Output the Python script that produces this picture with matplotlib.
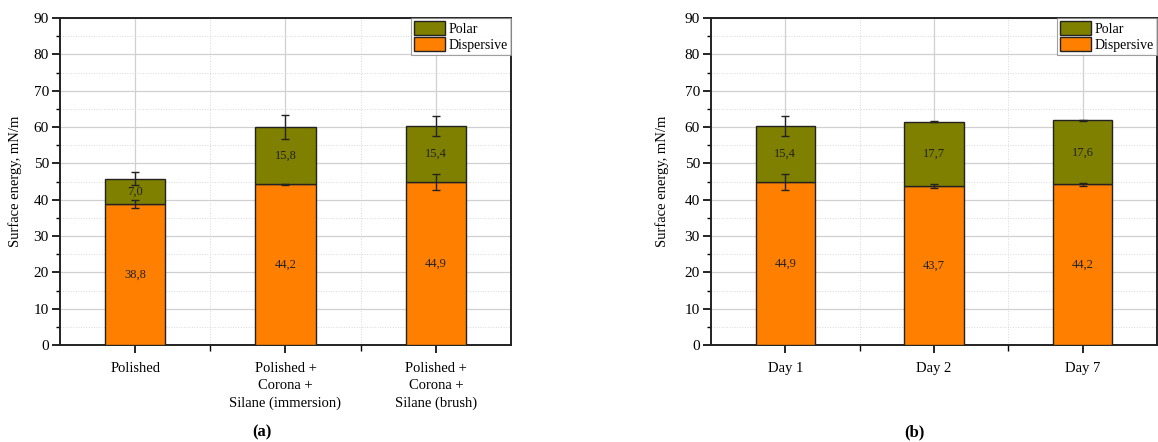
import matplotlib
matplotlib.use("Agg")
import matplotlib.pyplot as plt
from matplotlib.ticker import MultipleLocator, FixedLocator
from matplotlib.patches import Patch

plt.rcParams['font.family'] = ['Liberation Serif', 'DejaVu Serif']

# Panel (a)
cats_a = ["Polished", "Polished +\nCorona +\nSilane (immersion)", "Polished +\nCorona +\nSilane (brush)"]
disp_a = [38.8, 44.2, 44.9]
polar_a = [7.0, 15.8, 15.4]
disp_err_a = [1.1, 0.1, 2.2]
total_err_a = [1.8, 3.3, 2.7]
labels_disp_a = ["38,8", "44,2", "44,9"]
labels_polar_a = ["7,0", "15,8", "15,4"]

# Panel (b)
cats_b = ["Day 1", "Day 2", "Day 7"]
disp_b = [44.9, 43.7, 44.2]
polar_b = [15.4, 17.7, 17.6]
disp_err_b = [2.2, 0.6, 0.4]
total_err_b = [2.7, 0.15, 0.15]
labels_disp_b = ["44,9", "43,7", "44,2"]
labels_polar_b = ["15,4", "17,7", "17,6"]

C_DISP = "#FF8000"
C_POLAR = "#808000"

W, H = 1158, 442
fig = plt.figure(figsize=(W / 100, H / 100), dpi=100)


def panel(rect, cats, disp, polar, derr, terr, ldisp, lpolar, ylab_x, tag, tag_x):
    ax = fig.add_axes(rect)
    x = [1, 2, 3]
    ax.set_xlim(0.5, 3.5)
    ax.set_ylim(0, 90)
    ax.bar(x, disp, width=0.4, color=C_DISP, edgecolor="#222222", linewidth=1.0, zorder=3, label="Dispersive")
    ax.bar(x, polar, width=0.4, bottom=disp, color=C_POLAR, edgecolor="#222222", linewidth=1.0, zorder=3, label="Polar")
    tops = [d + p for d, p in zip(disp, polar)]
    ax.errorbar(x, disp, yerr=derr, fmt="none", ecolor="#222222", elinewidth=1.0, capsize=3, capthick=1.0, zorder=4)
    ax.errorbar(x, tops, yerr=terr, fmt="none", ecolor="#222222", elinewidth=1.0, capsize=3, capthick=1.0, zorder=4)
    for xi, d, p, ld, lp in zip(x, disp, polar, ldisp, lpolar):
        ax.text(xi, d / 2, ld, ha="center", va="center", fontsize=9, color="#222222", zorder=5)
        ax.text(xi, d + p / 2, lp, ha="center", va="center", fontsize=9, color="#222222", zorder=5)
    ax.yaxis.set_major_locator(MultipleLocator(10))
    ax.yaxis.set_minor_locator(MultipleLocator(5))
    ax.xaxis.set_major_locator(FixedLocator(x))
    ax.xaxis.set_minor_locator(FixedLocator([1.5, 2.5]))
    ax.set_xticklabels(cats, fontsize=10.5, linespacing=1.45)
    ax.tick_params(axis="y", which="major", direction="out", length=6, width=1.2, labelsize=11, pad=2)
    ax.tick_params(axis="y", which="minor", direction="out", length=3, width=1.0)
    ax.tick_params(axis="x", which="major", direction="out", length=6, width=1.2, pad=6)
    ax.tick_params(axis="x", which="minor", direction="out", length=4, width=1.0)
    ax.grid(True, which="major", color="#d0d0d0", linewidth=0.9, zorder=0)
    ax.grid(True, which="minor", color="#d8d8d8", linewidth=0.7, linestyle=":", zorder=0)
    ax.set_axisbelow(True)
    for s in ax.spines.values():
        s.set_linewidth(1.4)
        s.set_color("#222222")
    ax.set_ylabel("Surface energy, mN/m", fontsize=10.5)
    ax.yaxis.set_label_coords(ylab_x, 0.5)
    handles = [Patch(facecolor=C_POLAR, edgecolor="#222222", label="Polar"),
               Patch(facecolor=C_DISP, edgecolor="#222222", label="Dispersive")]
    leg = ax.legend(handles=handles, loc="upper right", fontsize=10, frameon=True, fancybox=False,
                    borderaxespad=0.0, borderpad=0.2, handlelength=2.2, handleheight=1.2,
                    handletextpad=0.3, labelspacing=0.1)
    leg.get_frame().set_edgecolor("#888888")
    leg.get_frame().set_linewidth(0.8)
    fig.text(tag_x / W, 1 - 432 / H, tag, ha="center", va="center", fontsize=12, fontweight="bold")
    return ax


panel([60 / W, 1 - 345 / H, 451 / W, 327 / H], cats_a, disp_a, polar_a, disp_err_a, total_err_a,
      labels_disp_a, labels_polar_a, -0.085, "(a)", 262)
panel([711 / W, 1 - 345 / H, 446 / W, 327 / H], cats_b, disp_b, polar_b, disp_err_b, total_err_b,
      labels_disp_b, labels_polar_b, -0.095, "(b)", 914)

fig.savefig("out.png", dpi=100)
